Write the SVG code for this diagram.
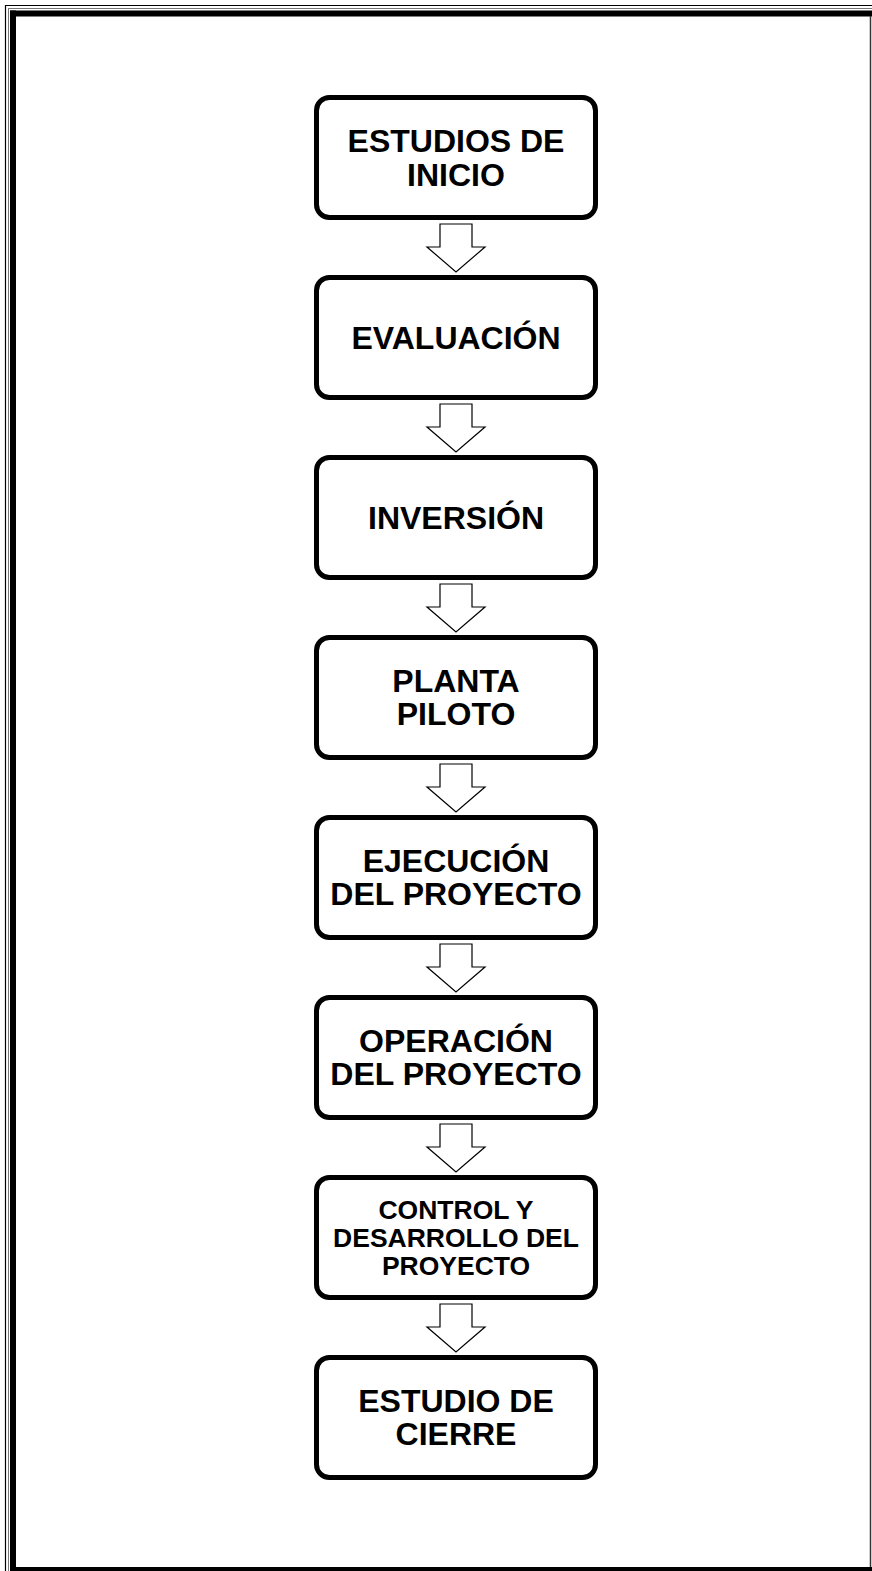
<svg xmlns="http://www.w3.org/2000/svg" width="872" height="1571" viewBox="0 0 872 1571">
<defs>
<style>
.box{fill:#fff;stroke:#000;stroke-width:5}
.t{font-family:"Liberation Sans",Arial,sans-serif;font-weight:bold;font-size:32px;fill:#000;text-anchor:middle}
.s{font-size:26.5px}
.arr{fill:#fff;stroke:#000;stroke-width:1.2;stroke-linejoin:miter}
</style>
<path id="arrow" class="arr" d="M440,224 H472 V247 H485 L456,272 L427,247 H440 Z"/>
</defs>
<rect x="0" y="0" width="872" height="1571" fill="#fff"/>
<g id="frame">
<line x1="5" y1="5.5" x2="872" y2="5.5" stroke="#000" stroke-width="1.2"/>
<line x1="5.5" y1="5" x2="5.5" y2="1571" stroke="#000" stroke-width="1.2"/>
<line x1="8" y1="8.5" x2="872" y2="8.5" stroke="#777" stroke-width="1"/>
<line x1="8.5" y1="8" x2="8.5" y2="1571" stroke="#777" stroke-width="1"/>
<rect x="10" y="10.5" width="862" height="6" fill="#000"/>
<rect x="10" y="10.5" width="6" height="1561" fill="#000"/>
<rect x="10" y="1567" width="862" height="4" fill="#000"/>
<line x1="870.5" y1="16" x2="870.5" y2="1567" stroke="#333" stroke-width="1.5"/>
</g>
<g id="connectors">
<use href="#arrow"/>
<use href="#arrow" y="180"/>
<use href="#arrow" y="360"/>
<use href="#arrow" y="540"/>
<use href="#arrow" y="720"/>
<use href="#arrow" y="900"/>
<use href="#arrow" y="1080"/>
</g>
<g id="n1"><rect class="box" x="316.5" y="97.5" width="279" height="120" rx="13"/>
<text class="t" x="456" y="152">ESTUDIOS DE</text><text class="t" x="456" y="185.5">INICIO</text></g>
<g id="n2"><rect class="box" x="316.5" y="277.5" width="279" height="120" rx="13"/>
<text class="t" x="456" y="348.5">EVALUACIÓN</text></g>
<g id="n3"><rect class="box" x="316.5" y="457.5" width="279" height="120" rx="13"/>
<text class="t" x="456" y="528.5">INVERSIÓN</text></g>
<g id="n4"><rect class="box" x="316.5" y="637.5" width="279" height="120" rx="13"/>
<text class="t" x="456" y="691.5">PLANTA</text><text class="t" x="456" y="725">PILOTO</text></g>
<g id="n5"><rect class="box" x="316.5" y="817.5" width="279" height="120" rx="13"/>
<text class="t" x="456" y="871.5">EJECUCIÓN</text><text class="t" x="456" y="905">DEL PROYECTO</text></g>
<g id="n6"><rect class="box" x="316.5" y="997.5" width="279" height="120" rx="13"/>
<text class="t" x="456" y="1051.5">OPERACIÓN</text><text class="t" x="456" y="1085">DEL PROYECTO</text></g>
<g id="n7"><rect class="box" x="316.5" y="1177.5" width="279" height="120" rx="13"/>
<text class="t s" x="456" y="1219">CONTROL Y</text><text class="t s" x="456" y="1247">DESARROLLO DEL</text><text class="t s" x="456" y="1275">PROYECTO</text></g>
<g id="n8"><rect class="box" x="316.5" y="1357.5" width="279" height="120" rx="13"/>
<text class="t" x="456" y="1411.5">ESTUDIO DE</text><text class="t" x="456" y="1445">CIERRE</text></g>
</svg>
